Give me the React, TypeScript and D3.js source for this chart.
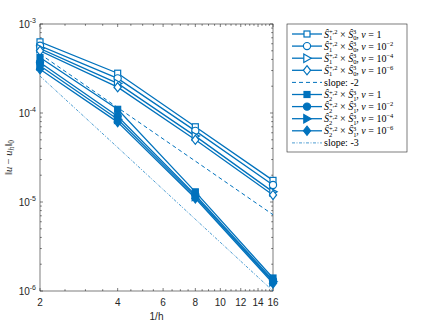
import * as d3 from 'd3';
import { useEffect, useRef } from 'react';

// values
const invH = [2, 4, 8, 16];

// S1^{+,2} x S0^3 (open markers)
const open1 = [6.3e-4, 2.8e-4, 7.0e-5, 1.75e-5];
const open2 = [5.7e-4, 2.45e-4, 6.3e-5, 1.55e-5];
const open4 = [5.3e-4, 2.15e-4, 5.5e-5, 1.3e-5];
const open6 = [5.0e-4, 1.95e-4, 5.0e-5, 1.2e-5];

// S2^{+,2} x S1^3 (filled markers)
const fill1 = [4.2e-4, 1.1e-4, 1.3e-5, 1.4e-6];
const fill2 = [3.7e-4, 9.2e-5, 1.2e-5, 1.32e-6];
const fill4 = [3.4e-4, 8.5e-5, 1.15e-5, 1.27e-6];
const fill6 = [3.1e-4, 7.9e-5, 1.1e-5, 1.22e-6];

// reference slopes
const slope2 = [4.6e-4, 1.15e-4, 2.88e-5, 7.2e-6];
const slope3 = [2.6e-4, 4.1e-5, 6.4e-6, 1.0e-6];

const nuLabels = ['1', '10|-2', '10|-4', '10|-6'];
const markerTypes = ['square', 'circle', 'triangle', 'diamond'];
const xTicks = [2, 4, 6, 8, 10, 12, 14, 16];
const yTicks = [1e-3, 1e-4, 1e-5, 1e-6];

const BLUE = '#0072BD';
const AX = '#262626';

const App = () => {
  const svgRef = useRef(null);

  useEffect(() => {
    document.body.style.margin = '0';
    const width = 436;
    const height = 327;
    const left = 40, right = 273, top = 24, bottom = 291;

    const svg = d3.select(svgRef.current)
      .attr('width', width)
      .attr('height', height);
    svg.selectAll('*').remove();

    const x = d3.scaleLog().domain([2, 16]).range([left, right]);
    const y = d3.scaleLog().domain([1e-6, 1e-3]).range([bottom, top]);

    svg.append('rect').attr('width', width).attr('height', height).attr('fill', '#fff');

    svg.append('defs').append('clipPath').attr('id', 'plotclip')
      .append('rect')
      .attr('x', left).attr('y', top)
      .attr('width', right - left).attr('height', bottom - top);

    // axes box and ticks
    const axes = svg.append('g');
    const xMinor = d3.range(2, 16.01, 0.5).filter((v) => !xTicks.includes(v));
    const yMinor = [];
    [1e-6, 1e-5, 1e-4].forEach((d) => {
      for (let k = 2; k <= 9; k++) yMinor.push(d * k);
    });

    const tick = (x1, y1, x2, y2) => axes.append('line')
      .attr('x1', x1).attr('y1', y1).attr('x2', x2).attr('y2', y2)
      .attr('stroke', AX).attr('stroke-width', 0.6);

    xTicks.forEach((v) => {
      tick(x(v), bottom, x(v), bottom - 3);
      tick(x(v), top, x(v), top + 3);
      axes.append('text').attr('x', x(v)).attr('y', bottom + 15)
        .attr('text-anchor', 'middle')
        .attr('font-family', 'Liberation Sans, Arial, sans-serif')
        .attr('font-size', 10).attr('fill', AX)
        .text(v);
    });
    xMinor.forEach((v) => {
      tick(x(v), bottom, x(v), bottom - 1.8);
      tick(x(v), top, x(v), top + 1.8);
    });
    yTicks.forEach((v) => {
      tick(left, y(v), left + 3, y(v));
      tick(right, y(v), right - 3, y(v));
      const t = axes.append('text').attr('x', left - 4).attr('y', y(v) + 4)
        .attr('text-anchor', 'end')
        .attr('font-family', 'Liberation Sans, Arial, sans-serif')
        .attr('font-size', 10).attr('fill', AX);
      t.append('tspan').text('10');
      t.append('tspan').attr('font-size', 7).attr('dy', -5).text(`-${Math.round(-Math.log10(v))}`);
    });
    yMinor.forEach((v) => {
      tick(left, y(v), left + 1.8, y(v));
      tick(right, y(v), right - 1.8, y(v));
    });
    axes.append('rect')
      .attr('x', left).attr('y', top)
      .attr('width', right - left).attr('height', bottom - top)
      .attr('fill', 'none').attr('stroke', AX).attr('stroke-width', 0.6);

    // axis labels
    svg.append('text').attr('x', (left + right) / 2).attr('y', bottom + 29)
      .attr('text-anchor', 'middle')
      .attr('font-family', 'Liberation Sans, Arial, sans-serif')
      .attr('font-size', 10).attr('fill', AX)
      .text('1/h');

    const yl = svg.append('text')
      .attr('transform', `translate(12,${(top + bottom) / 2}) rotate(-90)`)
      .attr('text-anchor', 'middle')
      .attr('font-family', 'Liberation Serif, serif')
      .attr('font-size', 10.5).attr('fill', AX);
    yl.append('tspan').text('‖');
    yl.append('tspan').attr('font-style', 'italic').text('u');
    yl.append('tspan').text(' − ');
    yl.append('tspan').attr('font-style', 'italic').text('u');
    yl.append('tspan').attr('font-style', 'italic').attr('font-size', 7.5).attr('dy', 2).text('h');
    yl.append('tspan').attr('dy', -2).text('‖');
    yl.append('tspan').attr('font-size', 7.5).attr('dy', 2).text('0');

    const drawMarker = (g, type, filled, cx, cy) => {
      const fill = filled ? BLUE : '#fff';
      let m;
      if (type === 'square') {
        m = g.append('rect').attr('x', cx - 3).attr('y', cy - 3).attr('width', 6).attr('height', 6);
      } else if (type === 'circle') {
        m = g.append('circle').attr('cx', cx).attr('cy', cy).attr('r', 3.6);
      } else if (type === 'triangle') {
        m = g.append('polygon')
          .attr('points', `${cx + 4.2},${cy} ${cx - 3.2},${cy - 4.2} ${cx - 3.2},${cy + 4.2}`);
      } else {
        m = g.append('polygon')
          .attr('points', `${cx},${cy - 4.6} ${cx + 3.6},${cy} ${cx},${cy + 4.6} ${cx - 3.6},${cy}`);
      }
      m.attr('fill', fill).attr('stroke', BLUE).attr('stroke-width', 1.2);
    };

    const line = d3.line().x((d, i) => x(invH[i])).y((d) => y(d));
    const plot = svg.append('g').attr('clip-path', 'url(#plotclip)');

    const seriesSets = [
      { data: [open1, open2, open4, open6], filled: false },
      { data: [fill1, fill2, fill4, fill6], filled: true },
    ];

    plot.append('path').attr('d', line(slope2))
      .attr('fill', 'none').attr('stroke', BLUE).attr('stroke-width', 1)
      .attr('stroke-dasharray', '4,3');
    plot.append('path').attr('d', line(slope3))
      .attr('fill', 'none').attr('stroke', BLUE).attr('stroke-width', 0.7)
      .attr('stroke-dasharray', '3,1.5,1,1.5');

    const marks = svg.append('g');
    seriesSets.forEach((set) => {
      set.data.forEach((vals, k) => {
        plot.append('path').attr('d', line(vals))
          .attr('fill', 'none').attr('stroke', BLUE).attr('stroke-width', 1.3);
        vals.forEach((v, i) => drawMarker(marks, markerTypes[k], set.filled, x(invH[i]), y(v)));
      });
    });

    // legend
    const lg = svg.append('g');
    const lx = 287, ly = 24, lw = 120, lh = 128;
    lg.append('rect').attr('x', lx).attr('y', ly).attr('width', lw).attr('height', lh)
      .attr('fill', '#fff').attr('stroke', AX).attr('stroke-width', 0.6);

    const entries = [];
    nuLabels.forEach((nu, k) => entries.push({ kind: 'series', sub1: '1', sub2: '0', nu, k, filled: false }));
    entries.push({ kind: 'slope', text: 'slope: -2', dash: '4,3', w: 1 });
    nuLabels.forEach((nu, k) => entries.push({ kind: 'series', sub1: '2', sub2: '1', nu, k, filled: true }));
    entries.push({ kind: 'slope', text: 'slope: -3', dash: '3,1.5,1,1.5', w: 0.7 });

    entries.forEach((e, i) => {
      const cy = ly + 10 + i * 12.1;
      const sx0 = lx + 5, sx1 = lx + 35;
      lg.append('line').attr('x1', sx0).attr('x2', sx1).attr('y1', cy).attr('y2', cy)
        .attr('stroke', BLUE).attr('stroke-width', e.kind === 'slope' ? e.w : 1.3)
        .attr('stroke-dasharray', e.kind === 'slope' ? e.dash : null);
      if (e.kind === 'series') drawMarker(lg, markerTypes[e.k], e.filled, (sx0 + sx1) / 2, cy);
      const t = lg.append('text').attr('x', sx1 + 2).attr('y', cy + 3.5)
        .attr('font-family', 'Liberation Serif, serif')
        .attr('font-size', 10).attr('fill', '#000');
      if (e.kind === 'slope') {
        t.text(e.text);
        return;
      }
      t.append('tspan').attr('font-style', 'italic').text('Ŝ');
      t.append('tspan').attr('font-size', 6.5).attr('dy', 2.5).text(e.sub1);
      t.append('tspan').attr('font-size', 6.5).attr('dx', -3.3).attr('dy', -6).text('+,2');
      t.append('tspan').attr('dy', 3.5).text(' × ');
      t.append('tspan').attr('font-style', 'italic').text('Ŝ');
      t.append('tspan').attr('font-size', 6.5).attr('dy', 2.5).text(e.sub2);
      t.append('tspan').attr('font-size', 6.5).attr('dx', -3.3).attr('dy', -6).text('3');
      t.append('tspan').attr('dy', 3.5).text(', ');
      t.append('tspan').attr('font-style', 'italic').text('ν');
      const [base, exp] = e.nu.split('|');
      t.append('tspan').text(` = ${base}`);
      if (exp) t.append('tspan').attr('font-size', 6.5).attr('dy', -4).text(exp.replace('-', '−'));
    });

    return () => {
      svg.selectAll('*').remove();
    };
  }, []);

  return <svg ref={svgRef} style={{ display: 'block' }} />;
};

export default App;
